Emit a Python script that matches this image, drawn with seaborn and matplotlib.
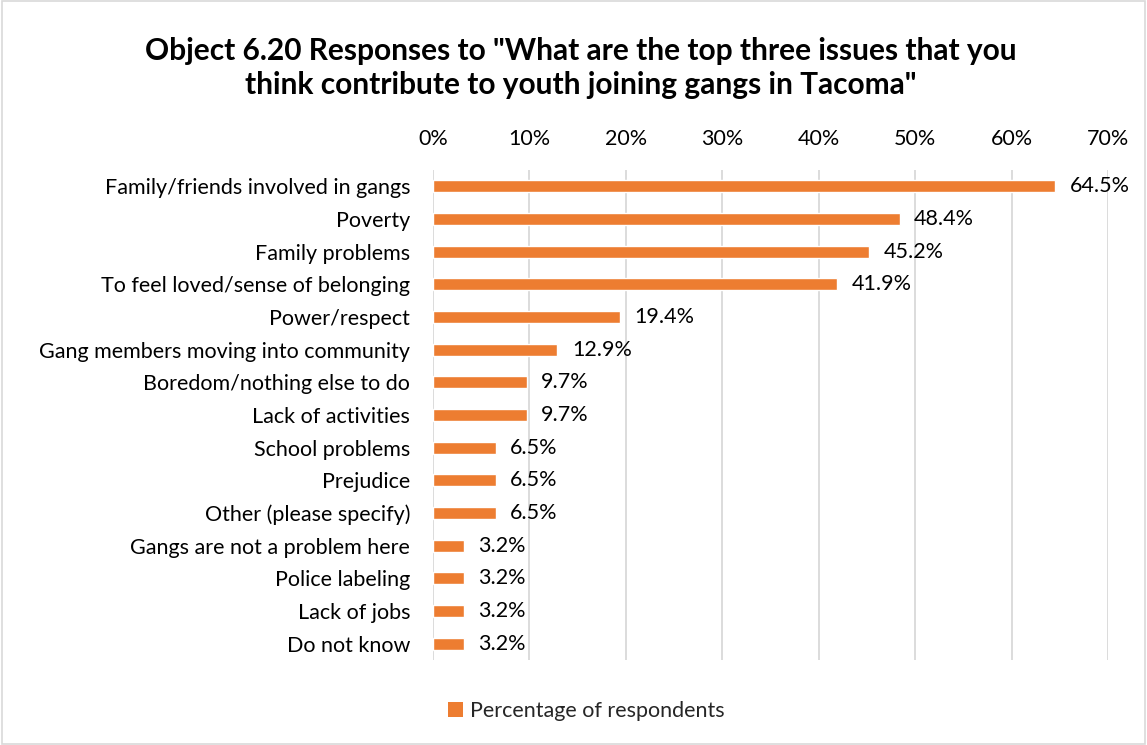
import matplotlib
matplotlib.use("Agg")
import matplotlib.pyplot as plt
import seaborn as sns
import pandas as pd
from matplotlib.patches import Patch
from matplotlib.ticker import FuncFormatter, MultipleLocator

categories = [
    "Family/friends involved in gangs",
    "Poverty",
    "Family problems",
    "To feel loved/sense of belonging",
    "Power/respect",
    "Gang members moving into community",
    "Boredom/nothing else to do",
    "Lack of activities",
    "School problems",
    "Prejudice",
    "Other (please specify)",
    "Gangs are not a problem here",
    "Police labeling",
    "Lack of jobs",
    "Do not know",
]
percentages = [64.5, 48.4, 45.2, 41.9, 19.4, 12.9, 9.7, 9.7, 6.5, 6.5, 6.5, 3.2, 3.2, 3.2, 3.2]
series_name = "Percentage of respondents"
title = 'Object 6.20 Responses to "What are the top three issues that you\nthink contribute to youth joining gangs in Tacoma"'

BAR = "#ED7D31"
GRID = "#D9D9D9"
TEXT = "#000000"
FS = 15.5

sns.set_theme(style="white")
plt.rcParams["font.family"] = ["Lato", "DejaVu Sans"]

df = pd.DataFrame({"issue": categories, "pct": percentages})

fig = plt.figure(figsize=(11.47, 7.45), dpi=100)
ax = fig.add_axes([0.3775, 0.114, 0.5885, 0.658])

sns.barplot(data=df, x="pct", y="issue", color=BAR, width=0.37,
            saturation=1, ax=ax, orient="h")

ax.set_xlim(0, 70)
ax.xaxis.set_major_locator(MultipleLocator(10))
ax.xaxis.set_major_formatter(FuncFormatter(lambda v, _: f"{v:.0f}%"))
ax.xaxis.tick_top()
ax.tick_params(axis="x", length=0, pad=15, labelsize=FS, colors=TEXT)
ax.tick_params(axis="y", length=0, pad=16.5, labelsize=FS, colors=TEXT)
ax.grid(axis="x", color=GRID, linewidth=1.3)
ax.set_axisbelow(True)
for s in ax.spines.values():
    s.set_visible(False)
ax.set_xlabel("")
ax.set_ylabel("")

for i, v in enumerate(percentages):
    ax.text(v + 1.5, i, f"{v:.1f}%", va="center", ha="left", fontsize=FS, color=TEXT)

fig.text(0.506, 0.909, title, ha="center", va="center", fontsize=21.5,
         fontweight="bold", color=TEXT, linespacing=1.25)

handles = [Patch(facecolor=BAR, edgecolor="none", label=series_name)]
fig.legend(handles=handles, loc="center", bbox_to_anchor=(0.511, 0.045),
           frameon=False, fontsize=FS, handlelength=0.7, handleheight=0.7,
           handletextpad=0.3)

fig.patches.append(plt.Rectangle((0.002, 0.002), 0.996, 0.996, transform=fig.transFigure,
                                 fill=False, edgecolor="#D9D9D9", linewidth=1.2))

fig.savefig("out.png", dpi=100)
